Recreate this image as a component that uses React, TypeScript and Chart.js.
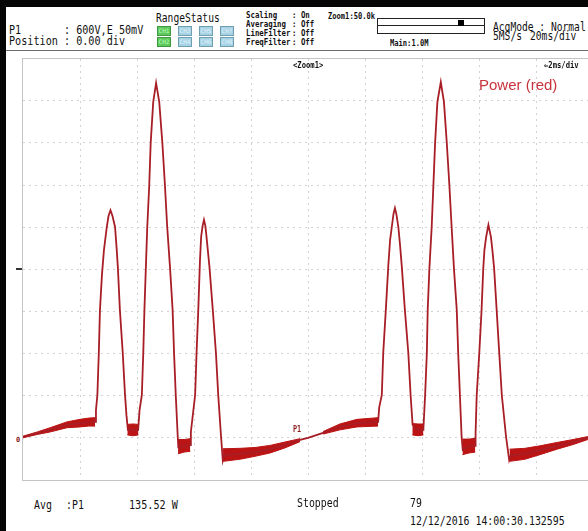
import React, { useEffect, useRef } from "react";
import { Chart, registerables } from "chart.js";

Chart.register(...registerables);

// ---- Data (time in ms, power in screen divisions) ----
const timeMs = [
  0.0, 0.95, 1.54, 2.0, 2.53, 2.56, 2.61, 2.66, 2.7, 2.77, 2.84, 2.94, 3.0, 3.07, 3.14, 3.23, 3.29, 3.33, 3.4, 3.5,
  3.58, 3.63, 3.68, 3.86, 4.04, 4.09, 4.17, 4.22, 4.26, 4.31, 4.36, 4.43, 4.48, 4.57, 4.67, 4.78, 4.89, 4.98, 5.06,
  5.16, 5.25, 5.3, 5.36, 5.43, 5.45, 5.65, 5.86, 5.89, 6.04, 6.09, 6.15, 6.21, 6.25, 6.3, 6.35, 6.4, 6.44, 6.54, 6.66,
  6.77, 6.85, 6.95, 7.01, 7.05, 7.61, 8.14, 8.67, 9.19, 9.72, 10.0, 10.53, 11.12, 11.72, 12.46, 12.5, 12.59, 12.64,
  12.73, 12.82, 12.88, 12.94, 13.0, 13.05, 13.1, 13.17, 13.23, 13.29, 13.4, 13.52, 13.6, 13.67, 13.86, 14.04, 14.05,
  14.11, 14.17, 14.2, 14.26, 14.34, 14.4, 14.46, 14.54, 14.66, 14.77, 14.87, 14.96, 15.04, 15.12, 15.22, 15.27, 15.33,
  15.39, 15.43, 15.65, 15.86, 15.88, 15.92, 16.01, 16.09, 16.15, 16.19, 16.25, 16.33, 16.42, 16.47, 16.53, 16.62,
  16.71, 16.8, 16.95, 17.06, 17.12, 17.61, 18.14, 18.74, 19.3, 19.82, 20.0,
];
const powerDiv = [
  0.0, 0.17, 0.29, 0.33, 0.36, 0.64, 1.0, 2.0, 3.02, 3.86, 4.45, 5.0, 5.26, 5.4, 5.26, 5.0, 4.45, 4.02, 3.02, 2.0,
  1.0, 0.52, 0.17, 0.17, 0.17, 0.64, 1.0, 2.0, 3.02, 4.02, 5.0, 6.0, 7.0, 7.98, 8.43, 7.98, 7.0, 6.0, 5.0,
  4.02, 3.02, 2.0, 1.0, 0.0, -0.24, -0.21, -0.19, 0.12, 1.0, 2.0, 3.02, 4.21, 4.76, 5.02, 5.17, 5.02, 4.76, 4.07, 3.02,
  2.0, 1.0, 0.0, -0.55, -0.43, -0.4, -0.36, -0.29, -0.19, -0.07, -0.02, 0.1, 0.24, 0.33, 0.36, 0.71, 1.0, 2.0,
  3.02, 4.1, 4.69, 5.0, 5.31, 5.45, 5.31, 5.0, 4.57, 4.07, 3.02, 2.0, 1.0, 0.29, 0.17, 0.17, 0.21,
  1.0, 2.0, 3.02, 4.02, 5.0, 6.0, 7.0, 7.98, 8.45, 7.98, 7.0, 6.0, 5.0, 4.02, 3.02, 2.0, 1.0,
  0.0, -0.31, -0.21, -0.21, 0.1, 1.0, 2.0, 3.02, 4.02, 4.45, 4.76, 5.05, 4.76, 4.45, 4.02, 3.02,
  2.0, 1.0, 0.0, -0.55, -0.43, -0.4, -0.31, -0.21, -0.12, -0.02, 0.01,
];

// Noise envelope of the acquisition (null = no visible noise band)
const noiseTime = [
  0.0, 0.5, 0.95, 1.54, 2.0, 2.3, 2.53, 2.54,
  3.66, 3.86, 4.05, 4.06,
  5.44, 5.65, 5.87, 5.88,
  7.02, 7.61, 8.14, 8.67, 9.19, 9.72, 9.73,
  10.53, 11.12, 11.72, 12.46, 12.47,
  13.66, 13.86, 14.05, 14.06,
  15.42, 15.65, 15.87, 15.88,
  17.07, 17.61, 18.14, 18.74, 19.3, 19.82,
];
const noiseHigh = [
  0.02, 0.12, 0.22, 0.36, 0.42, 0.45, 0.46, null,
  0.3, 0.31, 0.3, null,
  -0.06, -0.06, -0.04, null,
  -0.28, -0.27, -0.25, -0.2, -0.12, -0.04, null,
  0.13, 0.31, 0.42, 0.46, null,
  0.32, 0.31, 0.31, null,
  -0.05, -0.05, -0.03, null,
  -0.29, -0.27, -0.21, -0.13, -0.06, 0.01,
];
const noiseLow = [
  -0.02, 0.06, 0.12, 0.22, 0.24, 0.26, 0.26, null,
  0.05, 0.03, 0.05, null,
  -0.4, -0.36, -0.34, null,
  -0.58, -0.53, -0.46, -0.38, -0.26, -0.11, null,
  0.07, 0.17, 0.24, 0.26, null,
  0.05, 0.03, 0.05, null,
  -0.42, -0.38, -0.36, null,
  -0.58, -0.53, -0.42, -0.29, -0.18, -0.06,
];

const X_MIN = 0;
const X_MAX = 20;
const X_STEP = 2;
const Y_MIN = -1;
const Y_MAX = 9;
const Y_STEP = 1;

const MONO = "'DejaVu Sans Mono', monospace";

type TxtProps = {
  x: number;
  y: number;
  size: number;
  sx?: number;
  bold?: boolean;
  color?: string;
  font?: string;
  children: React.ReactNode;
};

function Txt({ x, y, size, sx = 1, bold, color = "#111", font = MONO, children }: TxtProps) {
  return (
    <div
      style={{
        position: "absolute",
        left: x,
        top: y,
        fontFamily: font,
        fontSize: size,
        lineHeight: 1,
        fontWeight: bold ? 700 : 400,
        color,
        whiteSpace: "pre",
        transform: `scaleX(${sx})`,
        transformOrigin: "left top",
      }}
    >
      {children}
    </div>
  );
}

function ChBox({ x, y, label, on }: { x: number; y: number; label: string; on: boolean }) {
  return (
    <div
      style={{
        position: "absolute",
        left: x,
        top: y,
        width: 12,
        height: 8,
        background: on ? "#5fc95f" : "#a6d2e3",
        border: `1px solid ${on ? "#3f9a3f" : "#6f9fb2"}`,
        color: on ? "#b8ffb8" : "#e0f4ff",
        fontFamily: MONO,
        fontSize: 6,
        lineHeight: "8px",
        textAlign: "center",
        overflow: "hidden",
      }}
    >
      {label}
    </div>
  );
}

export default function App() {
  const ref = useRef<HTMLCanvasElement | null>(null);

  useEffect(() => {
    if (!ref.current) return;
    const trace = timeMs.map((t, i) => ({ x: t, y: powerDiv[i] }));
    const hi = noiseTime.map((t, i) => ({ x: t, y: noiseHigh[i] }));
    const lo = noiseTime.map((t, i) => ({ x: t, y: noiseLow[i] }));
    const gridColor = (edgeMin: number, edgeMax: number) => (ctx: any) => {
      const v = ctx.tick ? ctx.tick.value : NaN;
      return v === edgeMin || v === edgeMax ? "rgba(0,0,0,0)" : "#d2d2d2";
    };
    const chart = new Chart(ref.current, {
      type: "line",
      data: {
        datasets: [
          {
            data: hi as any,
            borderColor: "#bb1414",
            backgroundColor: "#bb1414",
            borderWidth: 1,
            pointRadius: 0,
            fill: "+1",
            spanGaps: false,
            tension: 0,
            order: 2,
          },
          {
            data: lo as any,
            borderColor: "#bb1414",
            borderWidth: 1,
            pointRadius: 0,
            fill: false,
            spanGaps: false,
            tension: 0,
            order: 2,
          },
          {
            data: trace as any,
            borderColor: "#a81e26",
            borderWidth: 1.8,
            pointRadius: 0,
            fill: false,
            tension: 0,
            order: 1,
          },
        ],
      },
      options: {
        responsive: false,
        animation: false,
        events: [],
        layout: { padding: 0 },
        plugins: { legend: { display: false }, tooltip: { enabled: false } },
        scales: {
          x: {
            type: "linear",
            min: X_MIN,
            max: X_MAX,
            ticks: { display: false, stepSize: X_STEP },
            grid: { color: gridColor(X_MIN, X_MAX), drawTicks: false, lineWidth: 1 },
            border: { display: false, dash: [2, 4] },
          },
          y: {
            type: "linear",
            min: Y_MIN,
            max: Y_MAX,
            ticks: { display: false, stepSize: Y_STEP },
            grid: { color: gridColor(Y_MIN, Y_MAX), drawTicks: false, lineWidth: 1 },
            border: { display: false, dash: [2, 4] },
          },
        },
      },
    });
    return () => chart.destroy();
  }, []);

  const hdr = 13;
  return (
    <div
      style={{
        position: "relative",
        width: 588,
        height: 531,
        overflow: "hidden",
        background: "#fff",
      }}
    >
      <style>{`body{margin:0;}`}</style>
      {/* black frame of the instrument screen */}
      <div style={{ position: "absolute", left: 0, top: 0, width: 588, height: 7, background: "#050505" }} />
      <div style={{ position: "absolute", left: 0, top: 0, width: 6, height: 531, background: "#050505" }} />

      {/* header */}
      <Txt x={9} y={22.5} size={hdr} sx={0.78}>{"P1       : 600V,E 50mV"}</Txt>
      <Txt x={9} y={34} size={hdr} sx={0.78}>{"Position : 0.00 div"}</Txt>
      <Txt x={156} y={11} size={hdr} sx={0.74}>{"RangeStatus"}</Txt>
      <ChBox x={157} y={26} label="CH1" on />
      <ChBox x={157} y={37} label="CH2" on />
      <ChBox x={178} y={26} label="CH3" on={false} />
      <ChBox x={178} y={37} label="CH4" on={false} />
      <ChBox x={199} y={26} label="CH5" on={false} />
      <ChBox x={199} y={37} label="CH6" on={false} />
      <ChBox x={220} y={26} label="CH7" on={false} />
      <ChBox x={220} y={37} label="CH8" on={false} />
      <Txt x={246} y={11} size={9} sx={0.82} bold>{"Scaling"}</Txt>
      <Txt x={246} y={20} size={9} sx={0.82} bold>{"Averaging"}</Txt>
      <Txt x={246} y={29} size={9} sx={0.82} bold>{"LineFilter"}</Txt>
      <Txt x={246} y={38} size={9} sx={0.82} bold>{"FreqFilter"}</Txt>
      <Txt x={292} y={11} size={9} sx={0.82} bold>{": On"}</Txt>
      <Txt x={292} y={20} size={9} sx={0.82} bold>{": Off"}</Txt>
      <Txt x={292} y={29} size={9} sx={0.82} bold>{": Off"}</Txt>
      <Txt x={292} y={38} size={9} sx={0.82} bold>{": Off"}</Txt>
      <Txt x={328} y={12} size={9} sx={0.79} bold>{"Zoom1:50.0k"}</Txt>
      <div
        style={{
          position: "absolute",
          left: 377,
          top: 18,
          width: 106,
          height: 14,
          border: "1px solid #222",
        }}
      />
      <div style={{ position: "absolute", left: 378, top: 25, width: 106, height: 1, background: "#222" }} />
      <div style={{ position: "absolute", left: 458, top: 20, width: 6, height: 6, background: "#000" }} />
      <Txt x={390} y={39} size={9} sx={0.79} bold>{"Main:1.0M"}</Txt>
      <Txt x={493} y={19.5} size={hdr} sx={0.74}>{"AcqMode : Normal"}</Txt>
      <Txt x={493} y={29} size={hdr} sx={0.74}>{"5MS/s"}</Txt>
      <Txt x={530} y={29} size={hdr} sx={0.74}>{"20ms/div"}</Txt>
      <div style={{ position: "absolute", left: 6, top: 50, width: 582, height: 1, background: "#6a6a6a" }} />

      {/* plot frame */}
      <div
        style={{
          position: "absolute",
          left: 22,
          top: 58,
          width: 570,
          height: 421,
          border: "1px solid #c4c4c4",
        }}
      />
      <canvas
        ref={ref}
        width={570}
        height={420}
        style={{ position: "absolute", left: 23, top: 59, width: 570, height: 420 }}
      />
      <div style={{ position: "absolute", left: 16, top: 268, width: 6, height: 2, background: "#333" }} />
      <Txt x={16} y={437} size={7} bold color="#8a2020">{"0"}</Txt>
      <Txt x={293} y={61} size={9} sx={0.8} bold>{"<Zoom1>"}</Txt>
      <Txt x={544} y={61} size={9} sx={0.8} bold>{"⇐2ms/div"}</Txt>
      <Txt x={479} y={77} size={15} font="'Liberation Sans', Arial, sans-serif" color="#c8323c">
        {"Power (red)"}
      </Txt>
      <Txt x={293} y={426} size={8} sx={0.85} bold color="#8a1c1c">{"P1"}</Txt>

      {/* footer */}
      <Txt x={34} y={498} size={hdr} sx={0.76}>{"Avg"}</Txt>
      <Txt x={66} y={498} size={hdr} sx={0.76}>{":P1"}</Txt>
      <Txt x={129} y={498} size={hdr} sx={0.78}>{"135.52 W"}</Txt>
      <Txt x={297} y={496} size={hdr} sx={0.76}>{"Stopped"}</Txt>
      <Txt x={410} y={496} size={hdr} sx={0.76}>{"79"}</Txt>
      <Txt x={410} y={514} size={hdr} sx={0.76}>{"12/12/2016 14:00:30.132595"}</Txt>
    </div>
  );
}
